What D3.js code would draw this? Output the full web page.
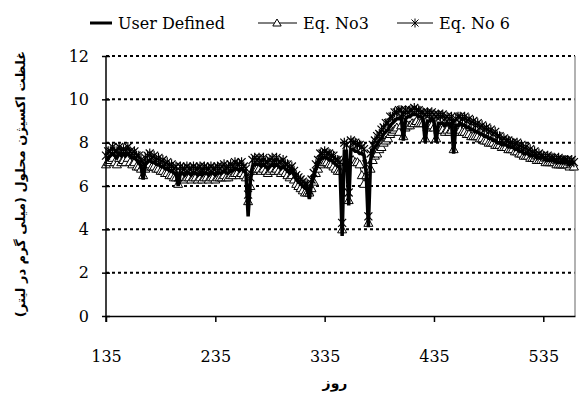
<!DOCTYPE html>
<html>
<head>
<meta charset="utf-8">
<script src="https://cdn.jsdelivr.net/npm/d3@7"></script>
<style>
  body { margin: 0; background: #fff; }
  text { font-family: "DejaVu Serif", serif; fill: #000; }
</style>
</head>
<body>
<svg id="chart" width="580" height="398"></svg>
<script>
// Sampling days (every second day)
const days = d3.range(135, 564, 2);

// Dissolved oxygen, mg/L
const userDefined = [
  7.2, 7.3, 7.4, 7.5, 7.4, 7.3, 7.5, 7.4, 7.5, 7.4,
  7.5, 7.4, 7.3, 7.3, 7.2, 7.1, 6.9, 6.3, 7.0, 7.1,
  7.2, 7.1, 7.1, 7.0, 7.0, 6.9, 6.9, 6.8, 6.8, 6.7,
  6.7, 6.6, 6.6, 6.0, 6.6, 6.6, 6.5, 6.6, 6.6, 6.5,
  6.6, 6.6, 6.5, 6.6, 6.5, 6.6, 6.6, 6.5, 6.6, 6.6,
  6.5, 6.6, 6.6, 6.6, 6.7, 6.6, 6.6, 6.7, 6.7, 6.8,
  6.8, 6.7, 6.8, 6.7, 6.6, 4.6, 6.2, 6.9, 7.0, 7.0,
  7.0, 6.9, 7.0, 6.9, 6.8, 6.9, 7.0, 6.9, 7.0, 6.9,
  6.8, 6.9, 6.8, 6.7, 6.6, 6.7, 6.5, 6.3, 6.2, 6.1,
  6.0, 5.9, 5.9, 5.4, 6.1, 6.4, 6.8, 7.0, 7.2, 7.3,
  7.3, 7.3, 7.2, 7.2, 7.1, 7.0, 6.9, 6.9, 3.7, 7.6,
  7.6, 5.1, 7.7, 7.7, 7.6, 7.6, 7.5, 7.5, 7.4, 6.6,
  4.1, 7.2, 7.6, 7.8, 7.9, 8.1, 8.2, 8.4, 8.5, 8.6,
  8.8, 8.9, 9.0, 9.1, 9.1, 9.2, 8.1, 9.1, 9.2, 9.2,
  9.3, 9.3, 9.3, 9.2, 9.2, 9.1, 8.0, 9.0, 9.0, 9.1,
  9.0, 8.0, 8.9, 8.9, 8.9, 8.8, 8.9, 8.8, 8.9, 7.5,
  8.8, 8.8, 8.9, 8.8, 8.8, 8.7, 8.7, 8.6, 8.6, 8.5,
  8.5, 8.4, 8.4, 8.3, 8.3, 8.2, 8.2, 8.1, 8.1, 8.0,
  8.0, 7.9, 7.9, 7.9, 7.8, 7.8, 7.8, 7.7, 7.7, 7.6,
  7.6, 7.5, 7.5, 7.5, 7.4, 7.4, 7.4, 7.3, 7.3, 7.3,
  7.3, 7.2, 7.2, 7.2, 7.2, 7.2, 7.1, 7.1, 7.1, 7.1,
  7.1, 7.1, 7.0, 7.1, 7.0
];

const eqNo3 = [
  7.0, 7.1, 7.2, 7.3, 7.1, 7.0, 7.3, 7.1, 7.2, 7.1,
  7.3, 7.1, 7.0, 7.1, 6.9, 6.9, 6.8, 6.5, 6.8, 6.9,
  7.0, 6.9, 6.9, 6.8, 6.8, 6.7, 6.7, 6.6, 6.6, 6.5,
  6.5, 6.4, 6.4, 6.1, 6.4, 6.4, 6.3, 6.4, 6.4, 6.3,
  6.4, 6.4, 6.3, 6.4, 6.3, 6.4, 6.4, 6.3, 6.4, 6.4,
  6.3, 6.4, 6.4, 6.4, 6.5, 6.4, 6.4, 6.5, 6.5, 6.6,
  6.6, 6.5, 6.6, 6.5, 6.4, 5.3, 6.0, 6.7, 6.8, 6.8,
  6.8, 6.7, 6.8, 6.7, 6.6, 6.7, 6.8, 6.7, 6.8, 6.7,
  6.6, 6.7, 6.6, 6.5, 6.4, 6.5, 6.3, 6.1, 6.0, 5.9,
  5.8, 5.7, 5.7, 5.7, 5.9, 6.2, 6.6, 6.8, 7.0, 7.1,
  7.1, 7.1, 7.0, 7.0, 6.9, 6.8, 6.7, 6.7, 4.0, 7.2,
  7.1, 5.35, 7.2, 7.2, 7.1, 7.1, 7.0, 6.5, 6.1, 6.5,
  4.3, 6.8, 7.2, 7.4, 7.5, 7.7, 7.8, 8.0, 8.1, 8.2,
  8.4, 8.5, 8.6, 8.7, 8.5, 8.8, 8.3, 8.7, 8.8, 8.8,
  8.9, 8.9, 9.0, 8.9, 8.9, 8.9, 8.2, 8.7, 8.8, 8.8,
  8.7, 8.2, 8.6, 8.6, 8.6, 8.5, 8.6, 8.5, 8.6, 7.7,
  8.5, 8.5, 8.6, 8.5, 8.5, 8.4, 8.4, 8.3, 8.3, 8.3,
  8.3, 8.2, 8.2, 8.1, 8.1, 8.0, 8.0, 8.0, 7.9, 7.9,
  7.9, 7.8, 7.8, 7.8, 7.7, 7.7, 7.7, 7.6, 7.6, 7.5,
  7.5, 7.4, 7.4, 7.4, 7.3, 7.3, 7.3, 7.2, 7.2, 7.2,
  7.2, 7.1, 7.1, 7.1, 7.1, 7.1, 7.0, 7.0, 7.0, 7.0,
  7.0, 7.0, 6.9, 7.0, 6.9
];

const eqNo6 = [
  7.4, 7.6, 7.6, 7.8, 7.6, 7.6, 7.8, 7.6, 7.7, 7.6,
  7.8, 7.6, 7.5, 7.6, 7.4, 7.4, 7.2, 7.0, 7.3, 7.4,
  7.5, 7.3, 7.4, 7.2, 7.3, 7.1, 7.2, 7.0, 7.1, 6.9,
  7.0, 6.8, 6.9, 6.4, 6.9, 6.8, 6.8, 6.9, 6.8, 6.8,
  6.9, 6.8, 6.8, 6.9, 6.7, 6.9, 6.8, 6.8, 6.9, 6.8,
  6.8, 6.9, 6.8, 6.9, 7.0, 6.8, 6.9, 7.0, 6.9, 7.1,
  7.0, 7.0, 7.1, 6.9, 6.8, 5.6, 6.4, 7.2, 7.3, 7.2,
  7.3, 7.1, 7.3, 7.1, 7.1, 7.2, 7.3, 7.1, 7.3, 7.1,
  7.1, 7.2, 7.0, 7.0, 6.8, 6.9, 6.7, 6.5, 6.4, 6.3,
  6.2, 6.1, 6.1, 5.8, 6.3, 6.6, 7.0, 7.2, 7.5, 7.5,
  7.6, 7.5, 7.5, 7.4, 7.4, 7.2, 7.2, 7.1, 4.3, 8.0,
  7.9, 5.7, 8.1, 8.0, 8.0, 7.9, 7.9, 7.8, 7.7, 7.0,
  4.6, 7.5, 7.9, 8.1, 8.3, 8.4, 8.6, 8.7, 8.9, 8.9,
  9.2, 9.2, 9.4, 9.4, 9.5, 9.5, 9.3, 9.5, 9.4, 9.5,
  9.5, 9.6, 9.5, 9.5, 9.4, 9.4, 9.3, 9.4, 9.3, 9.4,
  9.3, 9.2, 9.3, 9.2, 9.3, 9.1, 9.2, 9.1, 9.2, 8.9,
  9.1, 9.2, 9.2, 9.1, 9.2, 9.0, 9.1, 8.9, 9.0, 8.8,
  8.9, 8.7, 8.8, 8.6, 8.7, 8.5, 8.6, 8.4, 8.5, 8.3,
  8.3, 8.1, 8.2, 8.1, 8.1, 8.0, 8.0, 7.9, 8.0, 7.8,
  7.9, 7.7, 7.8, 7.6, 7.7, 7.5, 7.6, 7.4, 7.5, 7.4,
  7.4, 7.3, 7.4, 7.3, 7.3, 7.3, 7.2, 7.3, 7.2, 7.2,
  7.2, 7.2, 7.1, 7.2, 7.1
];

const xTicks = [135, 235, 335, 435, 535];
const yTicks = [0, 2, 4, 6, 8, 10, 12];
const seriesNames = ["User Defined", "Eq. No3", "Eq. No 6"];
const yTitle = "غلظت اکسیژن محلول (میلی گرم در لیتر)";
const xTitle = "روز";

const svg = d3.select("#chart");
const plot = { left: 106, right: 575, top: 56, bottom: 316 };

const x = d3.scaleLinear().domain([135, 564]).range([plot.left, plot.right]);
const y = d3.scaleLinear().domain([0, 12]).range([plot.bottom, plot.top]);

// dotted horizontal gridlines
svg.append("g")
  .selectAll("line")
  .data(yTicks.filter(v => v > 0))
  .join("line")
  .attr("x1", plot.left).attr("x2", plot.right)
  .attr("y1", d => y(d)).attr("y2", d => y(d))
  .attr("stroke", "#000").attr("stroke-width", 2)
  .attr("stroke-dasharray", "3,3");

// right frame edge
svg.append("line")
  .attr("x1", plot.right).attr("x2", plot.right)
  .attr("y1", plot.top).attr("y2", plot.bottom)
  .attr("stroke", "#999").attr("stroke-width", 1.5);

// series
const line = vals => d3.line()
  .x((d, i) => x(days[i]))
  .y(d => y(d))(vals);

const triPath = "M0,-4.5L4.5,3.5L-4.5,3.5Z";
const starPath = "M-4,-4L4,4M-4,4L4,-4M0,-5L0,5";

// Eq. No3: thin line with open triangles
svg.append("path").attr("d", line(eqNo3))
  .attr("fill", "none").attr("stroke", "#000").attr("stroke-width", 1);
svg.append("g").selectAll("path").data(eqNo3).join("path")
  .attr("transform", (d, i) => `translate(${x(days[i])},${y(d)})`)
  .attr("d", triPath)
  .attr("fill", "#fff").attr("stroke", "#000").attr("stroke-width", 1);

// User Defined: heavy line
svg.append("path").attr("d", line(userDefined))
  .attr("fill", "none").attr("stroke", "#000").attr("stroke-width", 3.5);

// Eq. No 6: thin line with asterisks
svg.append("path").attr("d", line(eqNo6))
  .attr("fill", "none").attr("stroke", "#000").attr("stroke-width", 1.2);
svg.append("g").selectAll("path").data(eqNo6).join("path")
  .attr("transform", (d, i) => `translate(${x(days[i])},${y(d)})`)
  .attr("d", starPath)
  .attr("fill", "none").attr("stroke", "#000").attr("stroke-width", 1.2);

// axes
const xAxis = svg.append("g")
  .attr("transform", `translate(0,${plot.bottom})`)
  .call(d3.axisBottom(x).tickValues(xTicks).tickSize(6).tickPadding(29).tickSizeOuter(0));
xAxis.select(".domain").attr("stroke-width", 1.5);
xAxis.selectAll(".tick line").attr("stroke-width", 1.5);
xAxis.selectAll(".tick text").attr("font-size", 16).attr("font-family", "DejaVu Serif");

const yAxis = svg.append("g")
  .attr("transform", `translate(${plot.left},0)`)
  .call(d3.axisLeft(y).tickValues(yTicks).tickSize(4).tickPadding(13).tickSizeOuter(0));
yAxis.select(".domain").attr("d", `M0,${plot.top}V${plot.bottom + 6}`).attr("stroke-width", 1.5);
yAxis.selectAll(".tick line").attr("x1", 4).attr("stroke-width", 1.5);
yAxis.selectAll(".tick text").attr("font-size", 16).attr("font-family", "DejaVu Serif");

// axis titles
svg.append("text")
  .attr("transform", `translate(25,184) rotate(-90)`)
  .attr("text-anchor", "middle")
  .attr("font-size", 13).attr("font-weight", "bold")
  .style("font-family", "'DejaVu Sans', sans-serif")
  .attr("direction", "rtl")
  .text(yTitle);

svg.append("text")
  .attr("x", 335).attr("y", 388)
  .attr("text-anchor", "middle")
  .attr("font-size", 14).attr("font-weight", "bold")
  .style("font-family", "'DejaVu Sans', sans-serif")
  .attr("direction", "rtl")
  .text(xTitle);

// legend
const legend = svg.append("g").attr("transform", "translate(0,23)");
legend.append("line").attr("x1", 90).attr("x2", 112).attr("y1", 0).attr("y2", 0)
  .attr("stroke", "#000").attr("stroke-width", 3);
legend.append("text").attr("x", 118).attr("y", 6).attr("font-size", 16).text(seriesNames[0]);

legend.append("line").attr("x1", 258).attr("x2", 297).attr("y1", 0).attr("y2", 0)
  .attr("stroke", "#000").attr("stroke-width", 1);
legend.append("path").attr("transform", "translate(277,0)").attr("d", "M0,-4L4.2,3L-4.2,3Z")
  .attr("fill", "#fff").attr("stroke", "#000");
legend.append("text").attr("x", 303).attr("y", 6).attr("font-size", 16).text(seriesNames[1]);

legend.append("line").attr("x1", 397).attr("x2", 433).attr("y1", 0).attr("y2", 0)
  .attr("stroke", "#000").attr("stroke-width", 1);
legend.append("path").attr("transform", "translate(415,0)").attr("d", "M-3.5,-3.5L3.5,3.5M-3.5,3.5L3.5,-3.5M0,-4.5L0,4.5")
  .attr("fill", "none").attr("stroke", "#000");
legend.append("text").attr("x", 439).attr("y", 6).attr("font-size", 16).text(seriesNames[2]);
</script>
</body>
</html>
